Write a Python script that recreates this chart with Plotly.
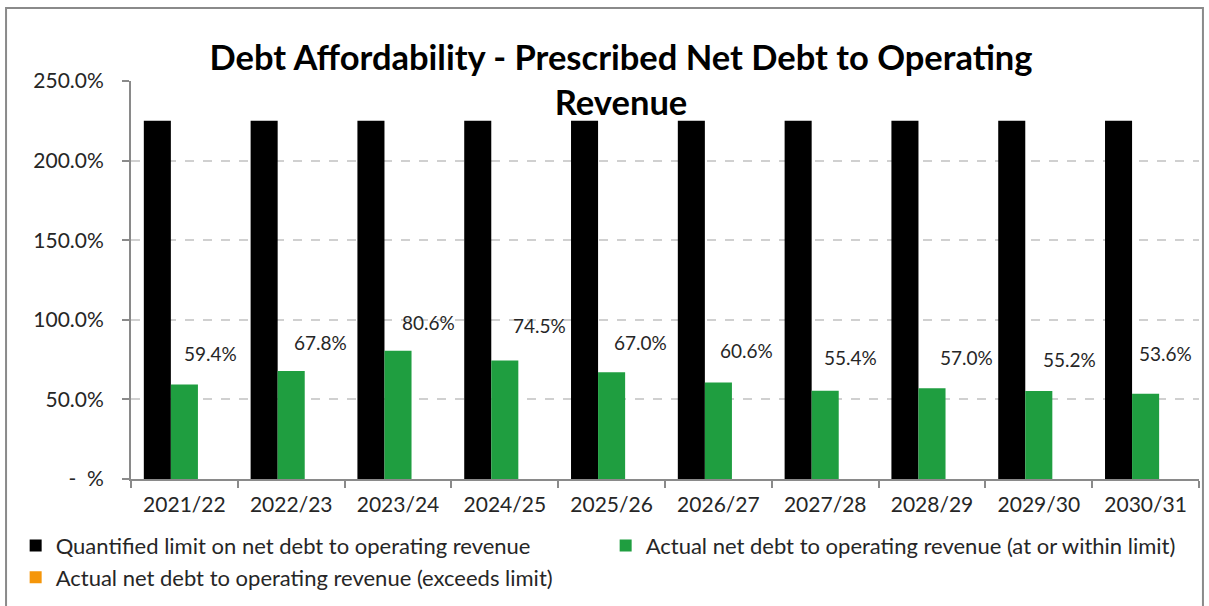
import plotly.graph_objects as go

# Financial years on the category axis
years = ["2021/22", "2022/23", "2023/24", "2024/25", "2025/26",
         "2026/27", "2027/28", "2028/29", "2029/30", "2030/31"]

# Ratios in percent
limit = [225.0] * 10
actual_within = [59.4, 67.8, 80.6, 74.5, 67.0, 60.6, 55.4, 57.0, 55.2, 53.6]
actual_exceeds = [0, 0, 0, 0, 0, 0, 0, 0, 0, 0]

# Y-axis ticks
y_ticks = [0, 50, 100, 150, 200, 250]
y_tick_text = [" -  %", "50.0%", "100.0%", "150.0%", "200.0%", "250.0%"]

# Pixel nudges for the value labels (placed beside the green bars)
label_dx = [26, 29, 30, 35, 29, 28, 25, 34, 31, 20]
label_dy = [31, 29, 28, 35, 30, 32, 33, 31, 32, 40]

FONT = "Lato"
GREEN = "#1f9e40"
ORANGE = "#f5960a"
AXIS = "#8a8a8a"
TEXT = "#262626"

fig = go.Figure()
fig.add_trace(go.Bar(x=years, y=limit, name="Quantified limit on net debt to operating revenue",
                     marker=dict(color="#000000", line=dict(width=0))))
fig.add_trace(go.Bar(x=years, y=actual_within,
                     name="Actual net debt to operating revenue (at or within limit)",
                     marker=dict(color=GREEN, line=dict(width=0))))
fig.add_trace(go.Bar(x=years, y=actual_exceeds,
                     name="Actual net debt to operating revenue (exceeds limit)",
                     marker=dict(color=ORANGE, line=dict(width=0))))

for yr, v, dx, dy in zip(years, actual_within, label_dx, label_dy):
    fig.add_annotation(x=yr, y=v, xref="x", yref="y", text=f"{v:.1f}%",
                       showarrow=False, xshift=dx, yshift=dy,
                       font=dict(family=FONT, size=19, color=TEXT))

# Chart-area border
fig.add_shape(type="rect", xref="paper", yref="paper",
              x0=-0.1170, x1=1.0037, y0=-0.335, y1=1.1834,
              line=dict(color=AXIS, width=2), fillcolor="rgba(0,0,0,0)", layer="below")

fig.update_layout(
    width=1209, height=606,
    margin=dict(l=131, r=10, t=81, b=127, autoexpand=False),
    paper_bgcolor="white", plot_bgcolor="white",
    barmode="group", bargap=0.24, bargroupgap=0,
    title=dict(text="<b>Debt Affordability - Prescribed Net Debt to Operating<br>Revenue</b>",
               x=0.5137, xanchor="center", y=0.885, yanchor="top",
               font=dict(family=FONT, size=34.5, color="#000000")),
    font=dict(family=FONT, color=TEXT),
    legend=dict(orientation="h", x=-0.108, xanchor="left", y=-0.115, yanchor="top",
                entrywidth=545, entrywidthmode="pixels",
                font=dict(family=FONT, size=22, color=TEXT),
                bgcolor="rgba(0,0,0,0)"),
    showlegend=True,
)

fig.update_yaxes(range=[0, 250], tickvals=y_ticks, ticktext=y_tick_text,
                 showgrid=True, gridcolor="#d0d0d0", griddash="dash", gridwidth=1.5,
                 showline=True, linecolor=AXIS, linewidth=2,
                 ticks="outside", ticklen=7, tickcolor=AXIS, tickwidth=2,
                 ticklabelstandoff=14,
                 tickfont=dict(family=FONT, size=21, color=TEXT),
                 zeroline=False, fixedrange=True)
fig.update_xaxes(showline=True, linecolor=AXIS, linewidth=2,
                 ticks="outside", tickson="boundaries", ticklen=7, tickcolor=AXIS, tickwidth=2,
                 ticklabelstandoff=6,
                 tickfont=dict(family=FONT, size=21, color=TEXT),
                 showgrid=False, fixedrange=True)

fig.write_html("out.html")
